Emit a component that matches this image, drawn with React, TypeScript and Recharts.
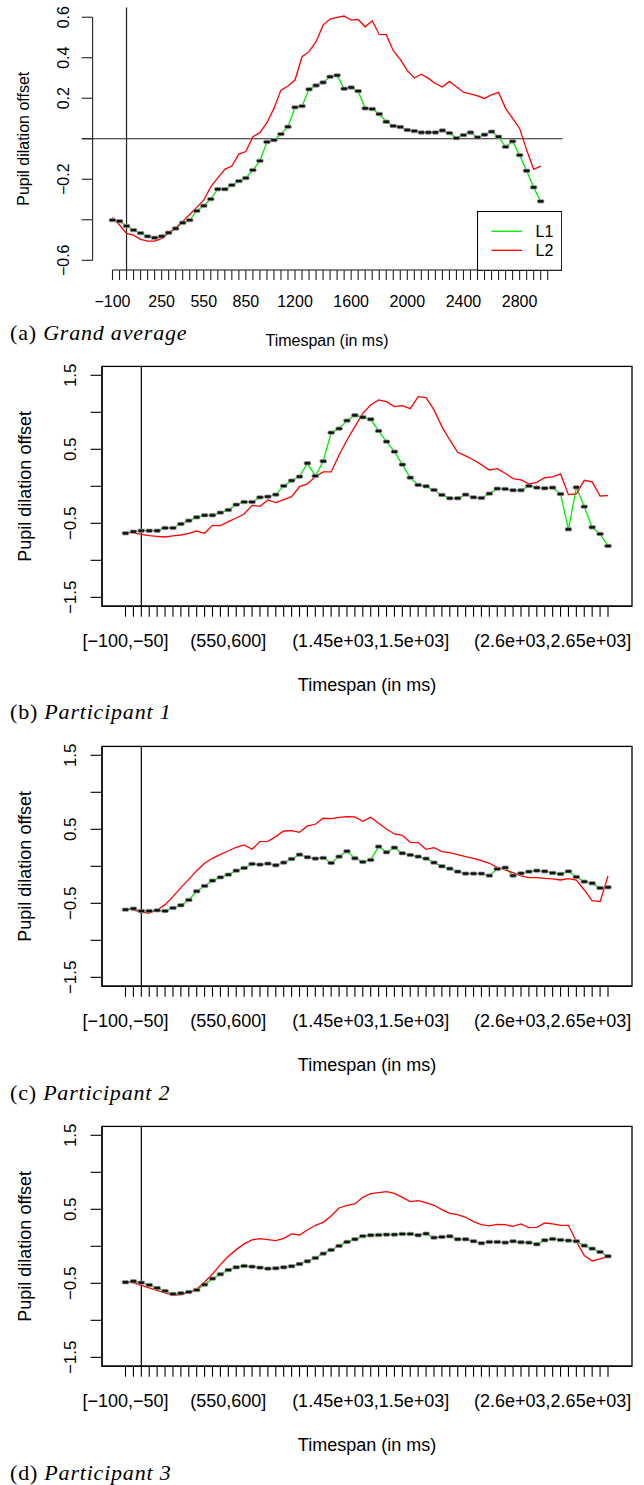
import React from 'react';
import { LineChart, Line, XAxis, YAxis, ReferenceLine, Legend } from 'recharts';

const SANS = '"Liberation Sans", Arial, Helvetica, sans-serif';
const SERIF = '"Liberation Serif", "Times New Roman", serif';
const GREEN = '#00ee00';
const RED = '#ff0000';
const AXC = '#222';

// ---------- categories & tick labels ----------
const gaCats = Array.from({ length: 63 }, (_, i) => String(-100 + 50 * i));
const binCats = Array.from({ length: 62 }, (_, i) =>
  i === 0 ? '[-100,-50]' : `(${-100 + 50 * i},${-50 + 50 * i}]`
);
const gaXLabels: Record<number, string> = {
  0: '−100', 7: '250', 13: '550', 19: '850', 26: '1200', 34: '1600', 42: '2000', 50: '2400', 58: '2800',
};
const binXLabels: Record<number, string> = {
  0: '[−100,−50]', 13: '(550,600]', 31: '(1.45e+03,1.5e+03]', 54: '(2.6e+03,2.65e+03]',
};
const gaYTicks = [-0.6, -0.4, -0.2, 0, 0.2, 0.4, 0.6];
const gaYLabels: Record<string, string> = { '0.6': '0.6', '0.4': '0.4', '0.2': '0.2', '-0.2': '−0.2', '-0.6': '−0.6' };
const pYTicks = [-1.5, -1, -0.5, 0, 0.5, 1, 1.5];
const pYLabels: Record<string, string> = { '1.5': '1.5', '0.5': '0.5', '-0.5': '−0.5', '-1.5': '−1.5' };

// ---------- data ----------
const gaL1 = [-0.402,-0.407,-0.431,-0.451,-0.466,-0.482,-0.489,-0.482,-0.464,-0.443,-0.415,-0.402,-0.356,-0.331,-0.298,-0.249,-0.249,-0.229,-0.209,-0.194,-0.155,-0.109,-0.016,-0.007,0.023,0.059,0.155,0.161,0.244,0.263,0.278,0.306,0.313,0.247,0.253,0.235,0.150,0.147,0.122,0.084,0.063,0.058,0.043,0.038,0.031,0.031,0.031,0.041,0.028,0.003,0.018,0.031,0.007,0.020,0.035,0.010,-0.040,-0.013,-0.081,-0.158,-0.240,-0.309];
const gaL2 = [-0.388,-0.426,-0.467,-0.476,-0.497,-0.505,-0.505,-0.492,-0.467,-0.441,-0.408,-0.374,-0.339,-0.303,-0.237,-0.193,-0.151,-0.135,-0.076,-0.063,0.010,0.030,0.079,0.150,0.240,0.260,0.290,0.405,0.430,0.479,0.561,0.591,0.599,0.606,0.586,0.589,0.553,0.583,0.515,0.514,0.435,0.392,0.336,0.300,0.319,0.298,0.273,0.255,0.283,0.257,0.230,0.222,0.212,0.199,0.217,0.229,0.150,0.100,0.051,-0.056,-0.151,-0.135];

const p1L1 = [-0.635,-0.613,-0.600,-0.600,-0.600,-0.563,-0.563,-0.509,-0.464,-0.419,-0.392,-0.392,-0.356,-0.320,-0.248,-0.212,-0.212,-0.149,-0.140,-0.113,0.005,0.077,0.131,0.311,0.140,0.338,0.725,0.779,0.887,0.959,0.932,0.905,0.748,0.604,0.468,0.293,0.117,0.018,0.000,-0.050,-0.117,-0.162,-0.162,-0.113,-0.149,-0.158,-0.099,-0.032,-0.036,-0.054,-0.054,0.005,-0.018,-0.027,-0.018,-0.104,-0.581,-0.014,-0.275,-0.554,-0.644,-0.806];
const p1L2 = [-0.626,-0.626,-0.649,-0.667,-0.676,-0.685,-0.671,-0.658,-0.635,-0.604,-0.635,-0.527,-0.532,-0.477,-0.428,-0.374,-0.257,-0.270,-0.185,-0.221,-0.180,-0.140,-0.005,0.032,0.131,0.194,0.194,0.423,0.626,0.806,0.986,1.099,1.167,1.144,1.077,1.090,1.050,1.212,1.198,1.032,0.806,0.626,0.459,0.410,0.356,0.293,0.221,0.239,0.176,0.104,0.086,0.032,0.054,0.117,0.126,0.167,-0.113,-0.104,0.081,0.059,-0.131,-0.126];

const p2L1 = [-0.586,-0.572,-0.604,-0.604,-0.595,-0.604,-0.563,-0.527,-0.455,-0.338,-0.266,-0.194,-0.149,-0.113,-0.059,-0.023,0.032,0.023,0.036,0.014,0.050,0.099,0.158,0.122,0.104,0.113,0.045,0.131,0.203,0.108,0.059,0.086,0.266,0.189,0.252,0.176,0.153,0.131,0.104,0.050,0.000,-0.032,-0.072,-0.099,-0.099,-0.099,-0.126,-0.036,-0.018,-0.126,-0.095,-0.072,-0.059,-0.068,-0.090,-0.104,-0.068,-0.144,-0.207,-0.230,-0.293,-0.284];
const p2L2 = [-0.568,-0.590,-0.622,-0.631,-0.590,-0.518,-0.410,-0.288,-0.176,-0.059,0.041,0.108,0.162,0.207,0.257,0.288,0.230,0.333,0.338,0.401,0.477,0.482,0.459,0.545,0.568,0.649,0.644,0.662,0.671,0.667,0.608,0.662,0.581,0.505,0.437,0.419,0.324,0.320,0.230,0.252,0.198,0.185,0.158,0.131,0.108,0.077,0.041,-0.014,-0.050,-0.086,-0.131,-0.153,-0.153,-0.162,-0.171,-0.185,-0.167,-0.185,-0.320,-0.464,-0.477,-0.131];

const p3L1 = [-0.486,-0.473,-0.491,-0.523,-0.563,-0.604,-0.644,-0.635,-0.617,-0.590,-0.518,-0.437,-0.378,-0.320,-0.284,-0.266,-0.275,-0.288,-0.302,-0.297,-0.284,-0.270,-0.239,-0.203,-0.158,-0.099,-0.050,0.005,0.059,0.095,0.137,0.149,0.153,0.158,0.158,0.167,0.167,0.149,0.171,0.117,0.126,0.135,0.095,0.095,0.068,0.041,0.059,0.059,0.050,0.068,0.054,0.050,0.027,0.081,0.099,0.086,0.077,0.068,0.009,-0.032,-0.077,-0.135];
const p3L2 = [-0.482,-0.491,-0.527,-0.563,-0.595,-0.631,-0.662,-0.653,-0.622,-0.581,-0.482,-0.374,-0.248,-0.135,-0.045,0.032,0.086,0.104,0.090,0.077,0.108,0.167,0.153,0.221,0.284,0.324,0.410,0.518,0.554,0.572,0.662,0.712,0.725,0.739,0.716,0.662,0.604,0.617,0.590,0.554,0.495,0.446,0.428,0.392,0.333,0.293,0.275,0.297,0.293,0.270,0.302,0.252,0.257,0.315,0.302,0.284,0.284,0.068,-0.126,-0.198,-0.171,-0.140];

const buildRows = (cats: string[], l1: number[], l2: number[]) =>
  cats.map((t, i) => ({ t, l1: i < l1.length ? l1[i] : null, l2: i < l2.length ? l2[i] : null }));

const gaRows = buildRows(gaCats, gaL1, gaL2);
const p1Rows = buildRows(binCats, p1L1, p1L2);
const p2Rows = buildRows(binCats, p2L1, p2L2);
const p3Rows = buildRows(binCats, p3L1, p3L2);

// ---------- shared pieces ----------
const renderDash = (p: any) => {
  const { cx, cy, index } = p;
  if (cx == null || cy == null || p.payload?.l1 == null) return <g key={`d${index}`} />;
  return (
    <rect key={`d${index}`} x={cx - 3.3} y={cy - 1.7} width={6.6} height={3.4} rx={1.3}
      fill="#111" stroke="#9a9a9a" strokeWidth={0.8} />
  );
};

// ---------- Grand average geometry ----------
const GA = { left: 81.7, right: 562.6, top: 7.5, bottom: 270, padL: 30.8, padR: 14.9, lo: -0.648, hi: 0.648 };
const GA_STEP = (GA.right - GA.left - GA.padL - GA.padR) / (gaCats.length - 1);
const GA_YSTEP = (0.2 * (GA.bottom - GA.top)) / (GA.hi - GA.lo);
const GA_AX = 10.9;

const GaXTick = (p: any) => {
  const { x, y, payload } = p;
  const i = gaCats.indexOf(String(payload.value));
  const lab = gaXLabels[i];
  return (
    <g>
      <line x1={x} x2={x} y1={y} y2={y + 10} stroke={AXC} strokeWidth={1.1} />
      {i < gaCats.length - 1 && <line x1={x} x2={x + GA_STEP} y1={y} y2={y} stroke={AXC} strokeWidth={1.1} />}
      {lab && (
        <text x={x} y={y + 31} textAnchor="middle" dominantBaseline="central" fontSize={16} fontFamily={SANS} fill="#000">
          {lab}
        </text>
      )}
    </g>
  );
};

const GaYTick = (p: any) => {
  const { x, y, payload } = p;
  const v = Number(payload.value);
  const lab = gaYLabels[String(v)];
  return (
    <g>
      <line x1={x} x2={x + GA_AX} y1={y} y2={y} stroke={AXC} strokeWidth={1.1} />
      {v > -0.6 + 1e-9 && (
        <line x1={x + GA_AX} x2={x + GA_AX} y1={y} y2={y + GA_YSTEP} stroke={AXC} strokeWidth={1.1} />
      )}
      {lab && (
        <text transform={`translate(${x - 17.9},${y}) rotate(-90)`} textAnchor="middle" dominantBaseline="central"
          fontSize={16} fontFamily={SANS} fill="#000">
          {lab}
        </text>
      )}
    </g>
  );
};

const GaLegend = (props: any) => {
  const items = (props.payload || []).filter((it: any) => it.type !== 'none');
  return (
    <svg width={85} height={60} style={{ display: 'block' }}>
      <rect x={0.5} y={0.5} width={84.2} height={58.8} fill="#fff" stroke="#000" strokeWidth={1.1} />
      {items.map((it: any, k: number) => (
        <g key={k}>
          <line x1={14.4} x2={45.2} y1={20.3 + 19 * k} y2={20.3 + 19 * k} stroke={it.color} strokeWidth={1.3} />
          <text x={58.6} y={20.3 + 19 * k} dominantBaseline="central" fontSize={16} fontFamily={SANS} fill="#000">
            {it.value}
          </text>
        </g>
      ))}
    </svg>
  );
};

function GrandAverage() {
  const H = 350;
  return (
    <div style={{ position: 'absolute', left: 0, top: 0 }}>
      <LineChart width={644} height={H} data={gaRows}
        margin={{ top: GA.top, right: 644 - GA.right, bottom: 0, left: 0 }}>
        <XAxis dataKey="t" type="category" interval={0} padding={{ left: GA.padL, right: GA.padR }}
          height={H - GA.bottom} tickSize={0} tickMargin={0} tickLine={false} axisLine={false}
          tick={(p: any) => <GaXTick {...p} />} />
        <YAxis type="number" domain={[GA.lo, GA.hi]} allowDataOverflow ticks={gaYTicks} interval={0}
          width={GA.left} tickSize={0} tickMargin={0} tickLine={false} axisLine={false}
          tick={(p: any) => <GaYTick {...p} />} />
        <ReferenceLine y={0} stroke={AXC} strokeWidth={1.2} />
        <ReferenceLine x={gaCats[2]} stroke={AXC} strokeWidth={1.2} />
        <Line dataKey="l1" name="L1" stroke={GREEN} strokeWidth={1.3} dot={false} activeDot={false} isAnimationActive={false} />
        <Line dataKey="l2" name="L2" stroke={RED} strokeWidth={1.3} dot={false} activeDot={false} isAnimationActive={false} />
        <Line dataKey="l1" name="pts" stroke="none" legendType="none" dot={renderDash} activeDot={false} isAnimationActive={false} />
        <Legend layout="horizontal" verticalAlign="middle" align="center" content={(p: any) => <GaLegend {...p} />}
          wrapperStyle={{ left: 477.4, top: 210.7, width: 85, height: 60, lineHeight: 0 }} />
        <text transform={`translate(23.5,${(GA.top + GA.bottom) / 2}) rotate(-90)`} textAnchor="middle"
          dominantBaseline="central" fontSize={16} fontFamily={SANS} fill="#000">Pupil dilation offset</text>
        <text x={327} y={340} textAnchor="middle" dominantBaseline="central" fontSize={16} fontFamily={SANS} fill="#000">
          Timespan (in ms)
        </text>
      </LineChart>
    </div>
  );
}

// ---------- participant panels ----------
const PP = { left: 102, right: 632, top: 11.4, bottom: 251.2, padL: 23.5, padR: 24, lo: -1.62, hi: 1.62 };

const PXTick = (p: any) => {
  const { x, y, payload } = p;
  const i = binCats.indexOf(String(payload.value));
  const lab = binXLabels[i];
  return (
    <g>
      <line x1={x} x2={x} y1={y} y2={y + 10.5} stroke="#000" strokeWidth={1.1} />
      {lab && (
        <text x={x} y={y + 34.6} textAnchor="middle" dominantBaseline="central" fontSize={18} fontFamily={SANS} fill="#000">
          {lab}
        </text>
      )}
    </g>
  );
};

const PYTick = (p: any) => {
  const { x, y, payload } = p;
  const lab = pYLabels[String(Number(payload.value))];
  return (
    <g>
      <line x1={x - 11.5} x2={x} y1={y} y2={y} stroke="#000" strokeWidth={1.1} />
      {lab && (
        <text transform={`translate(${x - 32},${y}) rotate(-90)`} textAnchor="middle" dominantBaseline="central"
          fontSize={17} fontFamily={SANS} fill="#000">
          {lab}
        </text>
      )}
    </g>
  );
};

function Participant({ top, rows }: { top: number; rows: any[] }) {
  const H = 345;
  return (
    <div style={{ position: 'absolute', left: 0, top }}>
      <LineChart width={644} height={H} data={rows}
        margin={{ top: PP.top, right: 644 - PP.right, bottom: 0, left: 0 }}>
        <XAxis dataKey="t" type="category" interval={0} padding={{ left: PP.padL, right: PP.padR }}
          height={H - PP.bottom} tickSize={0} tickMargin={0} tickLine={false}
          axisLine={{ stroke: '#000', strokeWidth: 1.3 }} tick={(p: any) => <PXTick {...p} />} />
        <YAxis type="number" domain={[PP.lo, PP.hi]} allowDataOverflow ticks={pYTicks} interval={0}
          width={PP.left} tickSize={0} tickMargin={0} tickLine={false}
          axisLine={{ stroke: '#000', strokeWidth: 1.3 }} tick={(p: any) => <PYTick {...p} />} />
        <rect x={PP.left} y={PP.top} width={PP.right - PP.left} height={PP.bottom - PP.top}
          fill="none" stroke="#000" strokeWidth={1.3} />
        <ReferenceLine x={binCats[2]} stroke="#000" strokeWidth={1.2} />
        <Line dataKey="l1" name="L1" stroke={GREEN} strokeWidth={1.3} dot={false} activeDot={false} isAnimationActive={false} />
        <Line dataKey="l2" name="L2" stroke={RED} strokeWidth={1.3} dot={false} activeDot={false} isAnimationActive={false} />
        <Line dataKey="l1" name="pts" stroke="none" legendType="none" dot={renderDash} activeDot={false} isAnimationActive={false} />
        <text transform={`translate(24.7,${(PP.top + PP.bottom) / 2}) rotate(-90)`} textAnchor="middle"
          dominantBaseline="central" fontSize={18} fontFamily={SANS} fill="#000">Pupil dilation offset</text>
        <text x={(PP.left + PP.right) / 2} y={PP.bottom + 78.8} textAnchor="middle" dominantBaseline="central"
          fontSize={18} fontFamily={SANS} fill="#000">Timespan (in ms)</text>
      </LineChart>
    </div>
  );
}

const captionStyle = (top: number): React.CSSProperties => ({
  position: 'absolute', left: 10, top, fontFamily: SERIF, fontSize: 22, lineHeight: '22px',
  letterSpacing: '0.8px', whiteSpace: 'nowrap', color: '#000', zIndex: 5,
});

export default function App() {
  return (
    <div style={{ position: 'absolute', left: 0, top: 0, width: 644, height: 1485, background: '#fff', overflow: 'hidden' }}>
      <GrandAverage />
      <div style={captionStyle(321.6)}>(a) <i>Grand average</i></div>
      <Participant top={355} rows={p1Rows} />
      <div style={captionStyle(700.6)}>(b) <i>Participant 1</i></div>
      <Participant top={735} rows={p2Rows} />
      <div style={captionStyle(1081.6)}>(c) <i>Participant 2</i></div>
      <Participant top={1115.4} rows={p3Rows} />
      <div style={captionStyle(1461.6)}>(d) <i>Participant 3</i></div>
    </div>
  );
}
